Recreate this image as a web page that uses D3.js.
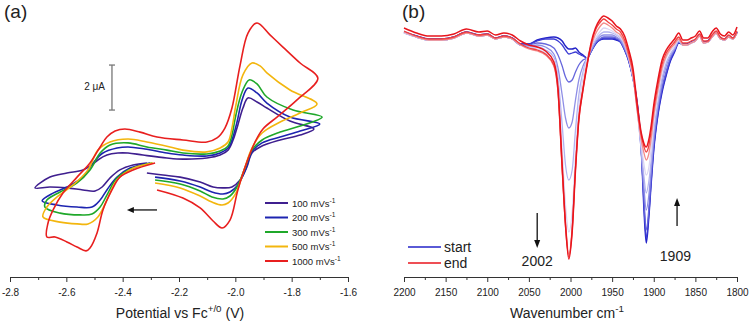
<!DOCTYPE html>
<html>
<head>
<meta charset="utf-8">
<script src="https://cdn.jsdelivr.net/npm/d3@7"></script>
<style>
  body { margin: 0; background: #fff; }
  svg { font-family: "Liberation Sans", Arial, sans-serif; }
</style>
</head>
<body>
<div id="chart"></div>
<script>
// ---- panel (a): cyclic voltammograms, [potential V vs Fc, current uA] ----
const scanRates = ["100", "200", "300", "500", "1000"];
const cvColors = ["#3f1f8f", "#1d24b0", "#1fa82a", "#f3b60e", "#e81f1f"];

const cv100 = [[-2.314,-0.13],[-2.363,-0.22],[-2.410,-0.44],[-2.445,-0.80],[-2.473,-1.20],[-2.498,-1.38],[-2.541,-1.33],[-2.598,-1.24],[-2.658,-1.20],[-2.711,-1.24],
  [-2.658,-0.76],[-2.598,-0.58],[-2.541,-0.44],[-2.509,-0.22],[-2.488,0.00],[-2.456,0.22],[-2.417,0.31],[-2.381,0.31],[-2.328,0.22],[-2.243,0.09],[-2.186,0.04],[-2.101,0.09],[-2.054,0.22],[-2.026,0.44],[-2.008,0.89],[-1.991,1.56],[-1.973,2.31],[-1.955,2.76],[-1.923,2.58],[-1.888,2.31],[-1.806,1.73],[-1.721,1.38],
  [-1.770,1.11],[-1.841,0.89],[-1.912,0.58],[-1.941,0.31],[-1.959,-0.31],[-1.983,-0.89],[-2.012,-1.20],[-2.044,-1.24],[-2.079,-1.20],[-2.125,-0.98],[-2.196,-0.76],[-2.257,-0.67],[-2.314,-0.58]];
const cv200 = [[-2.303,-0.13],[-2.374,-0.36],[-2.420,-0.76],[-2.456,-1.33],[-2.480,-1.78],[-2.509,-2.09],[-2.562,-2.09],[-2.633,-2.00],[-2.686,-1.82],
  [-2.647,-1.47],[-2.598,-1.20],[-2.541,-0.76],[-2.505,-0.13],[-2.470,0.31],[-2.420,0.53],[-2.381,0.58],[-2.321,0.49],[-2.243,0.31],[-2.186,0.22],[-2.101,0.18],[-2.054,0.31],[-2.026,0.53],[-2.012,0.89],[-1.994,1.69],[-1.976,2.67],[-1.955,3.20],[-1.923,2.98],[-1.888,2.53],[-1.806,1.91],[-1.700,1.60],
  [-1.770,1.29],[-1.841,1.02],[-1.905,0.76],[-1.941,0.36],[-1.962,-0.36],[-1.991,-1.11],[-2.019,-1.42],[-2.044,-1.51],[-2.083,-1.42],[-2.125,-1.20],[-2.196,-0.93],[-2.285,-0.76]];
const cv300 = [[-2.296,-0.13],[-2.363,-0.36],[-2.420,-0.80],[-2.456,-1.56],[-2.480,-2.09],[-2.509,-2.40],[-2.551,-2.44],[-2.622,-2.36],[-2.676,-2.09],
  [-2.669,-1.78],[-2.622,-1.42],[-2.562,-1.02],[-2.516,-0.44],[-2.480,0.31],[-2.445,0.67],[-2.381,0.76],[-2.314,0.58],[-2.243,0.44],[-2.186,0.31],[-2.101,0.27],[-2.054,0.40],[-2.026,0.62],[-2.012,1.11],[-1.998,2.00],[-1.976,3.02],[-1.951,3.56],[-1.923,3.38],[-1.888,2.80],[-1.795,2.22],[-1.692,1.91],
  [-1.770,1.51],[-1.841,1.24],[-1.905,0.89],[-1.941,0.44],[-1.966,-0.36],[-1.994,-1.20],[-2.019,-1.60],[-2.044,-1.73],[-2.083,-1.64],[-2.125,-1.38],[-2.196,-1.07],[-2.285,-0.89]];
const cv500 = [[-2.292,-0.13],[-2.363,-0.36],[-2.420,-0.89],[-2.456,-1.78],[-2.488,-2.53],[-2.523,-2.84],[-2.562,-2.84],[-2.622,-2.76],[-2.683,-2.53],
  [-2.669,-2.09],[-2.633,-1.64],[-2.576,-1.11],[-2.523,-0.44],[-2.488,0.44],[-2.445,0.80],[-2.381,0.93],[-2.314,0.80],[-2.232,0.58],[-2.186,0.44],[-2.101,0.36],[-2.054,0.53],[-2.026,0.80],[-2.012,1.42],[-1.998,2.44],[-1.973,3.78],[-1.941,4.31],[-1.912,4.18],[-1.888,3.87],[-1.806,3.11],[-1.710,2.49],
  [-1.770,2.09],[-1.841,1.69],[-1.905,1.20],[-1.941,0.53],[-1.969,-0.44],[-1.998,-1.47],[-2.026,-1.91],[-2.047,-2.00],[-2.083,-1.87],[-2.125,-1.60],[-2.196,-1.24],[-2.285,-1.02]];
const cv1000 = [[-2.285,-0.13],[-2.363,-0.44],[-2.410,-0.76],[-2.438,-1.33],[-2.470,-2.22],[-2.491,-3.24],[-2.516,-3.91],[-2.530,-4.04],[-2.562,-3.87],[-2.598,-3.64],[-2.640,-3.42],[-2.669,-3.42],
  [-2.665,-2.80],[-2.647,-2.22],[-2.612,-1.47],[-2.562,-0.76],[-2.516,-0.13],[-2.480,0.58],[-2.456,1.02],[-2.427,1.29],[-2.392,1.38],[-2.338,1.24],[-2.278,1.02],[-2.186,0.89],[-2.101,0.80],[-2.065,0.98],[-2.037,1.42],[-2.012,2.31],[-1.983,4.22],[-1.955,5.64],[-1.923,6.09],[-1.877,5.56],[-1.831,5.02],[-1.770,4.31],[-1.707,3.64],
  [-1.781,2.67],[-1.852,1.91],[-1.902,1.38],[-1.930,0.80],[-1.959,-0.09],[-1.991,-1.33],[-2.019,-2.67],[-2.047,-3.02],[-2.079,-2.71],[-2.125,-2.13],[-2.186,-1.69],[-2.278,-1.33]];
const cvCurves = [cv100, cv200, cv300, cv500, cv1000];
const potentialTicks = [-2.8, -2.6, -2.4, -2.2, -2.0, -1.8, -1.6];
const potentialMinor = [-2.7, -2.5, -2.3, -2.1, -1.9, -1.7];

// ---- panel (b): IR spectra (absorbance, arbitrary units) ----
const wavenumbers = [2200,2185,2170,2155,2140,2125,2110,2100,2090,2080,2070,2060,2050,2040,2030,2020,
  2015,2010,2006,2002,1998,1994,1990,1985,1980,1975,1970,1965,1960,1955,1950,1945,1940,1935,1930,1925,1920,1915,1912,1909,1906,1903,1900,1895,1890,1885,1880,1875,1870,
  1865,1860,1855,1850,1845,1840,1835,1830,1825,1820,1815,1810,1805,1800];
const irStart = [22,26,29,29,27,22,25,24,28,26,28,34,34,30,28,27,
  28,31,36,39,39,38,42,45,48,41,34,30,29,29,29,30,32,40,51,68,92,138,195,233,208,172,140,105,82,65,51,42,33,
  34,34,32,30,25,32,31,26,22,28,29,26,28,22];
const irScan1 = [22,26,29,29,27,22,25,24,28,26,28,34,34,31,29,29,
  31,35,40,44,43,42,44,46,48,41,34,30,28,28,28,29,32,40,51,68,93,138,190,228,205,170,138,104,80,64,50,41,32,
  34,34,32,30,25,32,31,26,22,28,29,26,28,22];
const irScan2 = [23,27,30,30,28,23,26,25,29,27,29,35,35,33,34,38,
  45,56,67,72,70,62,55,50,48,41,33,29,27,27,27,28,31,39,50,68,94,140,185,220,200,165,133,100,77,61,48,40,32,
  35,35,33,31,26,33,32,27,23,29,30,27,29,23];
const irScan3 = [23,27,30,30,28,23,26,25,29,27,29,35,36,35,37,44,
  58,85,108,118,112,90,70,56,48,40,32,27,25,25,25,27,30,38,49,67,96,142,175,200,186,158,128,96,72,56,46,39,31,
  35,35,33,31,26,33,32,27,23,29,30,27,29,23];
const irScan4 = [23,27,30,30,28,23,26,25,29,27,29,35,37,37,40,47,
  68,115,155,170,160,120,85,62,48,38,30,25,22,22,23,25,28,36,48,67,98,140,165,183,172,150,122,92,68,53,44,38,31,
  35,35,33,31,26,33,32,27,23,29,30,27,29,23];
const irScan5 = [23,27,30,30,28,23,26,25,29,27,29,35,38,39,43,50,
  74,140,195,222,202,145,98,68,48,36,28,22,18,19,21,24,27,34,48,67,100,135,153,165,158,138,112,85,62,48,41,36,30,
  35,35,33,31,26,33,32,27,23,29,30,27,29,23];
const irScan6 = [22,27,30,30,28,23,26,25,29,27,29,35,39,41,45,56,
  82,158,212,244,218,158,110,80,54,36,24,17,13,15,18,22,25,33,47,65,100,130,142,150,144,128,106,80,58,46,39,34,29,
  35,35,33,31,26,33,32,27,23,29,30,27,29,23];
const irScan7 = [21,26,29,29,27,22,25,24,28,26,28,34,38,40,44,55,
  82,160,216,247,220,158,108,78,53,34,20,13,9,12,15,19,22,30,44,62,97,125,136,142,136,120,100,75,54,43,37,32,27,
  33,33,31,29,24,31,31,25,21,27,29,25,28,21];
const irEnd = [18,23,26,26,24,19,22,21,25,23,25,31,35,37,41,52,
  78,155,215,249,222,160,110,80,55,32,18,10,6,8,11,16,19,26,40,58,93,123,133,137,130,115,95,70,50,40,34,29,23,
  30,30,28,26,21,28,28,22,18,24,26,22,25,17];
const irSpectra = [irStart, irScan1, irScan2, irScan3, irScan4, irScan5, irScan6, irScan7, irEnd];
const irColors = ["#2323c8", "#3c3cd4", "#6767dc", "#8e8ee6", "#b3b3ef", "#dcd5f3", "#f48a8a", "#f04040", "#e8141c"];
const wavenumberTicks = [2200, 2150, 2100, 2050, 2000, 1950, 1900, 1850, 1800];
const wavenumberMinor = [2175, 2125, 2075, 2025, 1975, 1925, 1875, 1825];

const svg = d3.select("#chart").append("svg")
    .attr("width", 750)
    .attr("height", 323);

// small helper: text with a raised part (units like mVs-1)
function supText(g, x, y, base, sup, size, anchor) {
    const t = g.append("text")
        .attr("x", x).attr("y", y)
        .attr("font-size", size)
        .attr("fill", "#222")
        .attr("text-anchor", anchor || "start");
    t.append("tspan").text(base);
    t.append("tspan").attr("dy", -size * 0.4).attr("font-size", size * 0.7).text(sup);
    return t;
}

function drawAxis(x, major, minor, y0, fmt) {
    const g = svg.append("g").attr("transform", `translate(0,${y0})`);
    g.call(d3.axisBottom(x).tickValues(major).tickSize(5).tickSizeOuter(0).tickPadding(7).tickFormat(fmt));
    g.append("g").call(d3.axisBottom(x).tickValues(minor).tickSize(3).tickSizeOuter(0).tickFormat(""))
        .select(".domain").remove();
    g.selectAll("path, line").attr("stroke", "#333");
    g.selectAll("text").attr("font-size", 10).attr("fill", "#222")
        .attr("font-family", "Liberation Sans, Arial, sans-serif");
}

// ================= panel (a) =================
const xA = d3.scaleLinear().domain([-2.8, -1.6]).range([10, 348]);
const yA = d3.scaleLinear().domain([-4, 6]).range([250, 25]);

const cvLine = d3.line()
    .x(d => xA(d[0]))
    .y(d => yA(d[1]))
    .curve(d3.curveCatmullRom.alpha(0.5));

svg.append("g").selectAll("path")
    .data(cvCurves)
    .join("path")
    .attr("d", cvLine)
    .attr("fill", "none")
    .attr("stroke", (d, i) => cvColors[i])
    .attr("stroke-width", 1.6)
    .attr("stroke-linejoin", "round");

drawAxis(xA, potentialTicks, potentialMinor, 277, d => d.toFixed(1));

const titleA = supText(svg, 180, 318, "Potential vs Fc", "+/0", 14, "middle");
titleA.append("tspan").attr("dy", 14 * 0.4).text(" (V)");

// scale bar 2 uA
const bar = svg.append("g").attr("stroke", "#777").attr("stroke-width", 1.3);
bar.append("line").attr("x1", xA(-2.438)).attr("x2", xA(-2.438)).attr("y1", yA(4.22)).attr("y2", yA(2.22));
[4.22, 2.22].forEach(v => bar.append("line")
    .attr("x1", xA(-2.438) - 3).attr("x2", xA(-2.438) + 3)
    .attr("y1", yA(v)).attr("y2", yA(v)));
svg.append("text").attr("x", xA(-2.438) - 7).attr("y", yA(3.1))
    .attr("text-anchor", "end").attr("font-size", 10).attr("fill", "#222").text("2 \u03bcA");

// scan direction arrow
svg.append("line")
    .attr("x1", xA(-2.278)).attr("x2", xA(-2.37))
    .attr("y1", yA(-2.22)).attr("y2", yA(-2.22))
    .attr("stroke", "#111").attr("stroke-width", 1.3);
svg.append("path")
    .attr("d", `M${xA(-2.385)},${yA(-2.22)} l7,-3 l0,6 z`)
    .attr("fill", "#111");

// legend (a)
const legA = svg.append("g");
scanRates.forEach((r, i) => {
    const y = 203 + i * 14.5;
    legA.append("line").attr("x1", 265).attr("x2", 288).attr("y1", y).attr("y2", y)
        .attr("stroke", cvColors[i]).attr("stroke-width", 2);
    supText(legA, 292, y + 3.5, r + " mVs", "-1", 9.5);
});

svg.append("text").attr("x", 4).attr("y", 18).attr("font-size", 19).attr("fill", "#222").text("(a)");

// ================= panel (b) =================
const xB = d3.scaleLinear().domain([2200, 1800]).range([404, 737]);
const yB = d3.scaleLinear().domain([0, 250]).range([10, 260]);

const irLine = d3.line()
    .x((d, i) => xB(wavenumbers[i]))
    .y(d => yB(d))
    .curve(d3.curveMonotoneX);

svg.append("g").selectAll("path")
    .data(irSpectra)
    .join("path")
    .attr("d", irLine)
    .attr("fill", "none")
    .attr("stroke", (d, i) => irColors[i])
    .attr("stroke-width", (d, i) => i === 0 || i === 8 ? 1.5 : 1.3);

drawAxis(xB, wavenumberTicks, wavenumberMinor, 277, d => d);

supText(svg, 567, 318, "Wavenumber cm", "-1", 14, "middle");

// legend (b)
const legB = svg.append("g");
[["start", irColors[0]], ["end", irColors[8]]].forEach(([name, c], i) => {
    const y = 247 + i * 16;
    legB.append("line").attr("x1", 408).attr("x2", 441).attr("y1", y).attr("y2", y)
        .attr("stroke", c).attr("stroke-width", 1.5);
    legB.append("text").attr("x", 444).attr("y", y + 5).attr("font-size", 14).attr("fill", "#222").text(name);
});

// band arrows
function arrow(x, yFrom, yTo) {
    const dir = yTo > yFrom ? 1 : -1;
    svg.append("line").attr("x1", x).attr("x2", x).attr("y1", yFrom).attr("y2", yTo - dir * 6)
        .attr("stroke", "#111").attr("stroke-width", 1.3);
    svg.append("path").attr("d", `M${x},${yTo} l-3,${-dir * 8} l6,0 z`).attr("fill", "#111");
}
arrow(xB(2040), yB(203), yB(238));
arrow(xB(1872), yB(216), yB(188));
svg.append("text").attr("x", xB(2040)).attr("y", 266).attr("text-anchor", "middle")
    .attr("font-size", 14).attr("fill", "#222").text("2002");
svg.append("text").attr("x", xB(1874)).attr("y", 261).attr("text-anchor", "middle")
    .attr("font-size", 14).attr("fill", "#222").text("1909");

svg.append("text").attr("x", 402).attr("y", 18).attr("font-size", 19).attr("fill", "#222").text("(b)");
</script>
</body>
</html>
